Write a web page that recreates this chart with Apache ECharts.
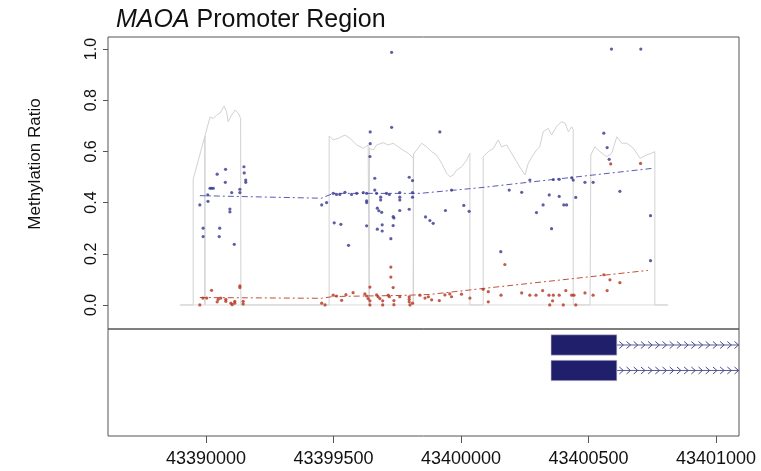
<!DOCTYPE html>
<html><head><meta charset="utf-8">
<script src="https://cdn.jsdelivr.net/npm/echarts@6/dist/echarts.min.js"></script>
<style>html,body{margin:0;padding:0;background:#fff}#c{width:761px;height:471px}</style>
</head><body><div id="c"></div>
<script>
const xTicks = [43399000, 43399500, 43400000, 43400500, 43401000];
const xTickLabels = ['43390000', '43399500', '43400000', '43400500', '43401000'];
const yTicks = [0, 0.2, 0.4, 0.6, 0.8, 1.0];
const yTickLabels = ['0.0', '0.2', '0.4', '0.6', '0.8', '1.0'];

const blueMeth = [
[43398976,0.391],[43398989,0.300],[43398989,0.267],[43399007,0.430],[43399008,0.405],[43399016,0.456],[43399022,0.456],[43399029,0.456],[43399044,0.511],[43399054,0.300],[43399052,0.267],[43399077,0.530],[43399076,0.479],[43399094,0.375],[43399094,0.364],[43399101,0.439],[43399111,0.237],[43399133,0.452],[43399133,0.439],[43399149,0.540],[43399150,0.516],[43399156,0.488],[43399156,0.479],
[43399454,0.391],[43399473,0.400],[43399499,0.436],[43399512,0.432],[43399525,0.432],[43399545,0.440],[43399571,0.432],[43399591,0.436],[43399617,0.439],[43399630,0.436],[43399503,0.321],[43399529,0.315],[43399559,0.233],[43399630,0.407],[43399630,0.400],[43399630,0.309],[43399644,0.676],[43399644,0.630],[43399643,0.580],[43399662,0.495],[43399662,0.449],[43399669,0.436],[43399672,0.378],[43399678,0.368],[43399689,0.362],[43399685,0.421],[43399685,0.410],[43399691,0.313],[43399672,0.296],[43399691,0.289],[43399708,0.436],[43399719,0.432],[43399728,0.987],[43399728,0.694],[43399725,0.259],[43399734,0.345],[43399737,0.340],[43399734,0.310],[43399760,0.439],[43399760,0.421],[43399760,0.410],[43399760,0.369],[43399797,0.499],[43399810,0.486],[43399797,0.374],[43399810,0.439],[43399810,0.421],[43399861,0.344],[43399878,0.330],[43399891,0.319],[43399917,0.676],[43399939,0.369],[43399963,0.449],[43400011,0.389],[43400032,0.366],
[43400156,0.208],[43400189,0.449],[43400238,0.440],[43400270,0.488],[43400296,0.361],[43400322,0.391],[43400346,0.430],[43400355,0.298],[43400362,0.490],[43400385,0.491],[43400385,0.424],[43400403,0.391],[43400414,0.391],[43400434,0.497],[43400440,0.488],[43400450,0.420],[43400486,0.479],[43400518,0.479],[43400560,0.671],[43400573,0.615],[43400581,0.569],[43400590,1.0],[43400705,1.0],[43400623,0.444],[43400743,0.349],[43400743,0.173]
];

const redMeth = [
[43398976,0.0],[43398988,0.027],[43399003,0.027],[43399022,0.057],[43399044,0.012],[43399048,0.022],[43399058,0.027],[43399078,0.022],[43399078,0.014],[43399098,0.007],[43399103,0.001],[43399113,0.014],[43399113,0.007],[43399133,0.075],[43399133,0.068],[43399146,0.014],[43399146,0.004],
[43399454,0.007],[43399467,0.0],[43399499,0.038],[43399512,0.035],[43399532,0.018],[43399549,0.040],[43399577,0.048],[43399623,0.043],[43399630,0.035],[43399636,0.025],[43399643,0.016],[43399643,0.0],[43399643,0.070],[43399669,0.039],[43399675,0.032],[43399682,0.025],[43399693,0.016],[43399693,0.0],[43399715,0.038],[43399719,0.032],[43399725,0.148],[43399725,0.109],[43399734,0.068],[43399737,0.017],[43399737,0.001],[43399760,0.032],[43399797,0.032],[43399797,0.022],[43399797,0.012],[43399810,0.007],[43399800,0.0],[43399839,0.038],[43399859,0.027],[43399872,0.032],[43399885,0.020],[43399915,0.017],[43399937,0.039],[43399956,0.043],[43399963,0.032],[43400002,0.042],[43400035,0.027],
[43400087,0.061],[43400107,0.052],[43400107,0.012],[43400157,0.038],[43400172,0.158],[43400238,0.047],[43400270,0.038],[43400294,0.038],[43400320,0.056],[43400345,0.038],[43400362,0.038],[43400359,0.016],[43400348,0.0],[43400385,0.038],[43400401,0.0],[43400411,0.056],[43400434,0.038],[43400443,0.038],[43400450,0.0],[43400486,0.047],[43400518,0.038],[43400560,0.118],[43400573,0.056],[43400584,0.098],[43400623,0.087],[43400587,0.551],[43400704,0.553]
];

const greyTrace = [
[43398898,0],[43398950,0],[43398950,0.492],[43398996,0.660],[43398996,0],[43398996,0.660],[43399016,0.734],[43399029,0.729],[43399042,0.742],[43399055,0.749],[43399071,0.777],[43399081,0.755],[43399087,0.716],[43399101,0.742],[43399114,0.762],[43399127,0.749],[43399136,0.729],[43399137,0],
[43399483,0],[43399483,0.660],[43399499,0.645],[43399519,0.651],[43399545,0.664],[43399565,0.651],[43399591,0.625],[43399617,0.612],[43399636,0.625],[43399640,0],[43399641,0.613],[43399656,0.605],[43399669,0.625],[43399695,0.634],[43399715,0.625],[43399734,0.632],[43399754,0.618],[43399773,0.605],[43399793,0.593],[43399813,0.573],[43399813,0],[43399814,0.590],[43399826,0.605],[43399846,0.632],[43399865,0.618],[43399885,0.599],[43399904,0.586],[43399924,0.554],[43399944,0.514],[43399957,0.501],[43399970,0.508],[43399983,0.527],[43400003,0.540],[43400022,0.566],[43400035,0.593],[43400035,0],
[43400087,0],[43400087,0.579],[43400107,0.599],[43400127,0.612],[43400146,0.645],[43400159,0.618],[43400179,0.625],[43400198,0.593],[43400218,0.560],[43400238,0.527],[43400251,0.508],[43400264,0.554],[43400283,0.586],[43400296,0.605],[43400309,0.618],[43400322,0.677],[43400342,0.690],[43400355,0.664],[43400374,0.696],[43400394,0.716],[43400408,0.710],[43400421,0.677],[43400434,0.696],[43400440,0.684],[43400440,0],
[43400506,0],[43400509,0.586],[43400525,0.618],[43400545,0.599],[43400571,0.579],[43400591,0.593],[43400611,0.657],[43400630,0.632],[43400650,0.632],[43400676,0.612],[43400702,0.573],[43400728,0.586],[43400747,0.593],[43400760,0.599],[43400760,0],[43400811,0]
];
const baseline = [[43398898,0],[43400811,0]];

const blueTrend = [[43398976,0.427],[43399453,0.417],[43399499,0.436],[43399839,0.436],[43400074,0.458],[43400753,0.534]];
const redTrend = [[43398976,0.029],[43399453,0.026],[43399499,0.033],[43399760,0.037],[43399878,0.041],[43400074,0.063],[43400733,0.135]];

// gene models: [start, first block end, transcript end, row]
const genes = [[43400353,43400611,43401500,1],[43400353,43400611,43401500,2]];

const chart = echarts.init(document.getElementById('c'), null, {renderer:'canvas'});
const FONT = 'Liberation Sans, Arial, sans-serif';
const XMIN = 43398616, XMAX = 43401090;

chart.setOption({
  animation:false,
  backgroundColor:'#fff',
  title:{
    text:'{i|MAOA} Promoter Region',
    left:111, top:3,
    textStyle:{fontFamily:FONT, fontSize:25, fontWeight:'normal', color:'#111',
      rich:{i:{fontFamily:FONT, fontSize:25, fontStyle:'italic', color:'#111'}}}
  },
  graphic:[{type:'text', x:35, y:164, rotation:Math.PI/2,
    style:{text:'Methylation Ratio', fontFamily:FONT, fontSize:17, fill:'#111', align:'center', verticalAlign:'middle'}}],
  grid:[
    {left:108, right:22, top:37, height:292, show:true, borderColor:'#555', borderWidth:1, backgroundColor:'transparent'},
    {left:108, right:22, top:329, height:107, show:true, borderColor:'#555', borderWidth:1, backgroundColor:'transparent'}
  ],
  xAxis:[
    {gridIndex:0, type:'value', min:XMIN, max:XMAX, axisLine:{show:false}, axisTick:{show:false}, axisLabel:{show:false}, splitLine:{show:false}},
    {gridIndex:1, type:'value', min:XMIN, max:XMAX, axisLine:{show:false}, splitLine:{show:false},
      axisTick:{show:true, customValues:xTicks, length:7, lineStyle:{color:'#555'}},
      axisLabel:{show:true, customValues:xTicks, margin:14, fontFamily:FONT, fontSize:18, color:'#111',
        formatter:v=>xTickLabels[xTicks.indexOf(v)]}}
  ],
  yAxis:[
    {gridIndex:0, type:'value', min:-0.094, max:1.047, axisLine:{show:false}, splitLine:{show:false},
      axisTick:{show:true, customValues:yTicks, length:5, lineStyle:{color:'#555'}},
      axisLabel:{show:true, customValues:yTicks, rotate:90, margin:8, fontFamily:FONT, fontSize:16, color:'#111',
        formatter:v=>yTickLabels[yTicks.indexOf(v)]}},
    {gridIndex:1, type:'value', min:0.373, max:4.57, inverse:true, show:false}
  ],
  series:[
    {type:'line', xAxisIndex:0, yAxisIndex:0, data:baseline, symbol:'none', silent:true, lineStyle:{color:'#dedede', width:1}, z:1},
    {type:'line', xAxisIndex:0, yAxisIndex:0, data:greyTrace, symbol:'none', silent:true, lineStyle:{color:'#d2d2d2', width:1}, z:2},
    {type:'line', xAxisIndex:0, yAxisIndex:0, data:blueTrend, symbol:'none', silent:true, lineStyle:{color:'#5a5ab8', width:1, type:[6,3,2,3]}, z:3},
    {type:'line', xAxisIndex:0, yAxisIndex:0, data:redTrend, symbol:'none', silent:true, lineStyle:{color:'#c0503c', width:1, type:[6,3,2,3]}, z:3},
    {type:'scatter', xAxisIndex:0, yAxisIndex:0, data:blueMeth, symbol:'circle', symbolSize:3.2, itemStyle:{color:'#36368f'}, z:4},
    {type:'scatter', xAxisIndex:0, yAxisIndex:0, data:redMeth, symbol:'circle', symbolSize:3.2, itemStyle:{color:'#b3321c'}, z:4},
    {type:'custom', xAxisIndex:1, yAxisIndex:1, data:genes, clip:true, silent:true,
      renderItem:function(params, api){
        const s = api.coord([api.value(0), api.value(3)]);
        const b = api.coord([api.value(1), api.value(3)]);
        const e = api.coord([api.value(2), api.value(3)]);
        const h = api.size([0, 0.8])[1];
        const ch = [
          {type:'line', shape:{x1:b[0], y1:b[1], x2:e[0], y2:e[1]}, style:{stroke:'#5a5a96', lineWidth:1}},
          {type:'rect', shape:{x:s[0], y:s[1]-h/2, width:b[0]-s[0], height:h}, style:{fill:'#1f1f6b', stroke:'#c8c8d8', lineWidth:0.6}}
        ];
        for (let x = b[0]+5; x < e[0]; x += 7.2) {
          ch.push({type:'polyline', shape:{points:[[x-2.5,b[1]-3.5],[x+1.5,b[1]],[x-2.5,b[1]+3.5]]}, style:{stroke:'#4a4a8c', fill:null, lineWidth:1}});
        }
        return {type:'group', children:ch};
      }}
  ]
});
</script></body></html>
